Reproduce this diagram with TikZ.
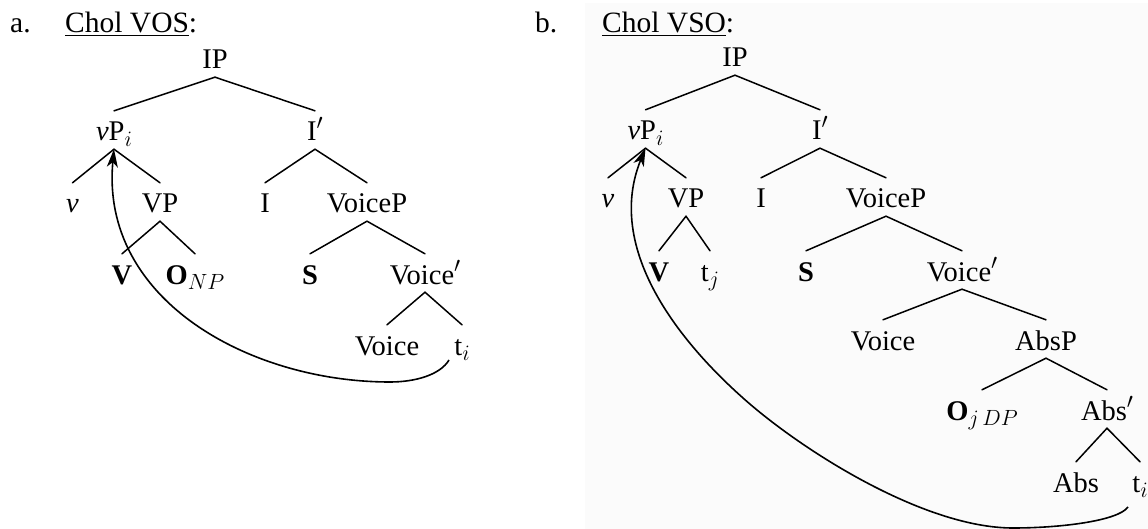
\RequirePackage{fix-cm}
\documentclass[tikz,border=0pt]{standalone}
\usepackage{fontspec}
\setmainfont{Liberation Serif}
\usetikzlibrary{arrows.meta}
\newcommand\treefnt{\fontsize{28.5}{34}\selectfont}
\newcommand\titlefnt{\fontsize{29.5}{35}\selectfont}
\newcommand\sbs[1]{\raisebox{-5.5pt}{\fontsize{22}{24}\selectfont$#1$}}
\newcommand\prm{\raisebox{11.5pt}{\fontsize{22}{24}\selectfont$\prime$}}
\begin{document}
\begin{tikzpicture}[x=1pt,y=-1pt,
  tn/.style={anchor=base, inner sep=0pt, text height=30pt, text depth=8pt, font=\treefnt},
  ttl/.style={anchor=base west, inner sep=0pt, font=\titlefnt},
  edge/.style={line width=1.5pt, line cap=round},
  mv/.style={line width=1.6pt, -{Stealth[length=18pt,width=11pt,inset=5pt]}}]
\useasboundingbox (0,0) rectangle (1148,529);
\fill[black!1.5] (585,3) rectangle (1148,529);
% titles
\node[ttl] (la) at (10,33) {a.};
\node[ttl] (ta) at (65,33) {\underline{Chol VOS}:};
\node[ttl] (lb) at (535,33) {b.};
\node[ttl] (tb) at (602,33) {\underline{Chol VSO}:};
% left tree
\node[tn] (IPL) at (215,69) {IP};
\node[tn] (vPL) at (114,141) {\textit{v}P\sbs{i}};
\node[tn] (IbL) at (315,141) {I\prm};
\node[tn] (vL) at (72.5,213) {\textit{v}};
\node[tn] (VPL) at (160,213) {VP};
\node[tn] (IL) at (265,213) {I};
\node[tn] (VoicePL) at (367,213) {VoiceP};
\node[tn] (VL) at (122,284) {\textbf{V}};
\node[tn] (OL) at (195,284) {\textbf{O}\sbs{NP}};
\node[tn] (SL) at (310,284) {\textbf{S}};
\node[tn] (VbL) at (425,284) {Voice\prm};
\node[tn] (VoiceL) at (387,355) {Voice};
\node[tn] (tiL) at (462,355) {t\sbs{i}};
\foreach \a/\b in {IPL/vPL,IPL/IbL,vPL/vL,vPL/VPL,IbL/IL,IbL/VoicePL,VPL/VL,VPL/OL,VoicePL/SL,VoicePL/VbL,VbL/VoiceL,VbL/tiL}
  \draw[edge] (\a.south) -- (\b.north);
\coordinate (sL) at (449,360);
\draw[mv] (sL) .. controls (440,375) and (415,382) .. (390,382)
  .. controls (250,382) and (100,300) .. (vPL.south);
% right tree
\node[tn] (IPR) at (735,67) {IP};
\node[tn] (vPR) at (645.5,140) {\textit{v}P\sbs{i}};
\node[tn] (IbR) at (820,140) {I\prm};
\node[tn] (vR) at (608,208) {\textit{v}};
\node[tn] (VPR) at (686,208) {VP};
\node[tn] (IR) at (761,208) {I};
\node[tn] (VoicePR) at (886,208) {VoiceP};
\node[tn] (VR) at (659,281) {\textbf{V}};
\node[tn] (tjR) at (710,281) {t\sbs{j}};
\node[tn] (SR) at (806,281) {\textbf{S}};
\node[tn] (VbR) at (962,281) {Voice\prm};
\node[tn] (VoiceR) at (883,350) {Voice};
\node[tn] (AbsPR) at (1046,350) {AbsP};
\node[tn] (OR) at (982,420) {\textbf{O}\sbs{j\,DP}};
\node[tn] (AbsbR) at (1107,420) {Abs\prm};
\node[tn] (AbsR) at (1076,492) {Abs};
\node[tn] (tiR) at (1140,492) {t\sbs{i}};
\foreach \a/\b in {IPR/vPR,IPR/IbR,vPR/vR,vPR/VPR,IbR/IR,IbR/VoicePR,VPR/VR,VPR/tjR,VoicePR/SR,VoicePR/VbR,VbR/VoiceR,VbR/AbsPR,AbsPR/OR,AbsPR/AbsbR,AbsbR/AbsR,AbsbR/tiR}
  \draw[edge] (\a.south) -- (\b.north);
\coordinate (sR) at (1128,507);
\draw[mv] (sR) .. controls (1118,521) and (1060,528) .. (1013,528)
  .. controls (923,528) and (800,449) .. (743,398)
  .. controls (706,365) and (599,262) .. (vPR.south);
\end{tikzpicture}
\end{document}
